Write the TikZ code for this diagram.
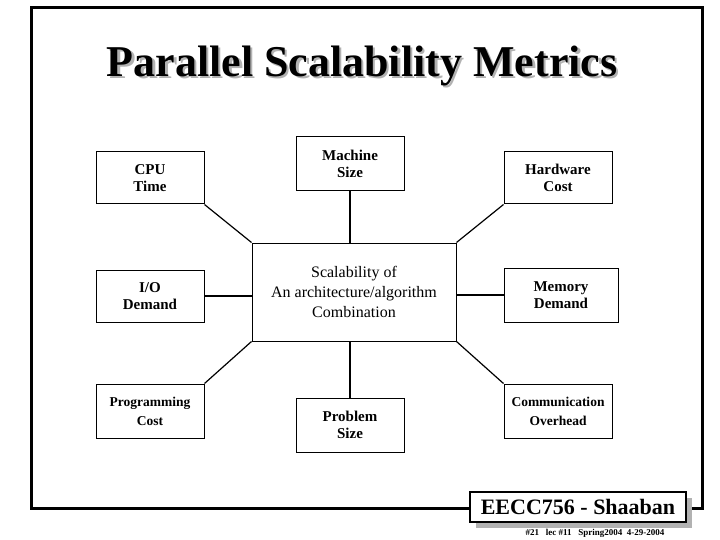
\documentclass[tikz,border=0pt]{standalone}
\usepackage{fontspec}
\setmainfont{Liberation Serif}
\begin{document}
\begin{tikzpicture}[x=1pt,y=-1pt,
  box/.style={draw,line width=1pt,fill=white,inner sep=0pt,align=center,font=\bfseries\fontsize{15}{17}\selectfont},
  ln/.style={line width=1.2pt}]
\useasboundingbox (0,0) rectangle (720,540);
\draw[line width=3pt] (31,8) rectangle (702,508);
\node (title) [font=\bfseries\fontsize{44}{46}\selectfont,
  preaction={}] at (362,67) {\rlap{\raisebox{-2.5pt}{\hspace{2.5pt}\textcolor{gray!60}{Parallel Scalability Metrics}}}Parallel Scalability Metrics};
\node (cpu) [box,minimum width=108,minimum height=52] at (150,178) {CPU\\Time};
\node (mach) [box,minimum width=108,minimum height=54] at (350,164) {Machine\\Size};
\node (hw) [box,minimum width=108,minimum height=52] at (558,178) {Hardware\\Cost};
\node (io) [box,minimum width=108,minimum height=52] at (150,296) {I/O\\Demand};
\node (ctr) [box,minimum width=204,minimum height=98,font=\fontsize{16}{20}\selectfont] at (354,292) {Scalability of\\An architecture/algorithm\\Combination};
\node (mem) [box,minimum width=114,minimum height=54] at (561,295) {Memory\\Demand};
\node (prog) [box,minimum width=108,minimum height=54,font=\bfseries\fontsize{13.5}{19}\selectfont] at (150,411) {Programming\\Cost};
\node (prob) [box,minimum width=108,minimum height=54] at (350,425) {Problem\\Size};
\node (comm) [box,minimum width=108,minimum height=54,font=\bfseries\fontsize{13.5}{19}\selectfont] at (558,411) {Communication\\Overhead};
\draw[ln] (cpu.south east) -- (ctr.north west);
\draw[ln] (mach.south) -- (mach.south |- ctr.north);
\draw[ln] (hw.south west) -- (ctr.north east);
\draw[ln] (io.east) -- (io.east -| ctr.west);
\draw[ln] (mem.west) -- (mem.west -| ctr.east);
\draw[ln] (prog.north east) -- (ctr.south west);
\draw[ln] (prob.north) -- (prob.north |- ctr.south);
\draw[ln] (comm.north west) -- (ctr.south east);
\fill[gray!60] (476,498) rectangle (692,528);
\node (foot) [draw,line width=1.5pt,fill=white,minimum width=216,minimum height=30,inner sep=0pt,font=\bfseries\fontsize{22}{24}\selectfont] at (578,507) {EECC756 - Shaaban};
\node (sub) [font=\bfseries\fontsize{9}{10}\selectfont] at (595,533) {\#21~~~lec \#11~~~Spring2004~~4-29-2004};
\end{tikzpicture}
\end{document}
